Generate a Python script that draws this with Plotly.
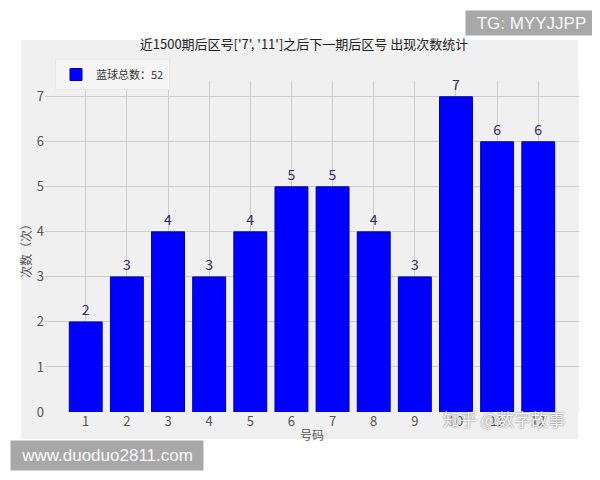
import plotly.graph_objects as go

numbers = [1, 2, 3, 4, 5, 6, 7, 8, 9, 10, 11, 12]
counts = [2, 3, 4, 3, 4, 5, 5, 4, 3, 7, 6, 6]
title_text = "近1500期后区号['7', '11']之后下一期后区号 出现次数统计"
legend_name = "蓝球总数：52"
x_title = "号码"
y_title = "次数（次）"

FONT = "Noto Sans CJK SC, Noto Sans, sans-serif"

# page has an 8px body margin; figure is sized to fill the rest of the window
OFF = 8
W, H = 600 - OFF, 480 - OFF
L, R, T, B = 37, 21, 73, 68
PW, PH = W - L - R, H - T - B


def px(x):
    return (x - OFF - L) / PW


def py(y):
    return (H - B - (y - OFF)) / PH


fig = go.Figure()
fig.add_trace(go.Bar(
    x=numbers, y=counts, name=legend_name,
    width=0.8,
    marker=dict(color="#0000ff", line=dict(color="#00009a", width=1)),
    text=counts, textposition="outside", cliponaxis=False,
    textfont=dict(size=14, color="#2b2b5e", family=FONT),
    showlegend=True,
))

fig.update_layout(
    width=W, height=H,
    paper_bgcolor="white", plot_bgcolor="#f0f0f0",
    margin=dict(l=L, r=R, t=T, b=B, autoexpand=False),
    font=dict(family=FONT, color="#555555"),
    title=dict(text=title_text, x=(304 - OFF) / W, xanchor="center",
               y=1 - (44 - OFF) / H, yanchor="middle",
               font=dict(size=13, color="#222222", family=FONT)),
    bargap=0.2,
    legend=dict(xref="container", yref="container", x=(55 - OFF) / W, y=1 - (59 - OFF) / H,
                xanchor="left", yanchor="top", itemwidth=30,
                bgcolor="#f5f5f5", bordercolor="#e8e8e8", borderwidth=1,
                font=dict(size=11, color="#333333", family=FONT)),
    xaxis=dict(range=[0.01, 12.99], tickmode="array", tickvals=numbers,
               ticktext=[str(n) for n in numbers], automargin=False,
               showgrid=True, gridcolor="#cbcbcb", gridwidth=1, zeroline=False,
               tickfont=dict(size=13, color="#555555"),
               ticks="", showline=False),
    yaxis=dict(range=[0, 7.35], tickmode="array", tickvals=list(range(0, 8)),
               automargin=False,
               showgrid=True, gridcolor="#cbcbcb", gridwidth=1, zeroline=False,
               tickfont=dict(size=13, color="#555555"),
               ticks="", showline=False),
)

# light gray figure panel
fig.add_shape(type="rect", xref="paper", yref="paper",
              x0=px(21), x1=px(578), y0=py(439), y1=py(40),
              fillcolor="#f0f0f0", line=dict(width=0), layer="below")

# axis titles
fig.add_annotation(xref="paper", yref="paper", x=px(312), y=py(434),
                   xanchor="center", yanchor="middle", text=x_title, showarrow=False,
                   font=dict(size=12, color="#555555", family=FONT))
fig.add_annotation(xref="paper", yref="paper", x=px(25), y=py(248),
                   xanchor="center", yanchor="middle", text=y_title, showarrow=False,
                   textangle=-90, font=dict(size=12, color="#555555", family=FONT))

# watermark overlays
fig.add_annotation(xref="paper", yref="paper", x=px(465), y=py(10),
                   xanchor="left", yanchor="top", text="TG: MYYJJPP", showarrow=False,
                   bgcolor="#a8a8a8", font=dict(size=17, color="#f8f8f8", family="Liberation Sans"),
                   width=125, height=18, borderpad=3, align="center")
fig.add_annotation(xref="paper", yref="paper", x=px(10), y=py(440),
                   xanchor="left", yanchor="top", text="www.duoduo2811.com", showarrow=False,
                   bgcolor="#a8a8a8", font=dict(size=17, color="#f8f8f8", family="Liberation Sans"),
                   width=186, height=23, borderpad=3, align="center")
fig.add_annotation(xref="paper", yref="paper", x=px(504), y=py(418),
                   xanchor="center", yanchor="middle", text="知乎 @数字故事", showarrow=False,
                   font=dict(size=17, color="rgba(255,255,255,0.9)", family=FONT,
                             shadow="0px 0px 2px #555555"))

fig.write_html("out.html")
